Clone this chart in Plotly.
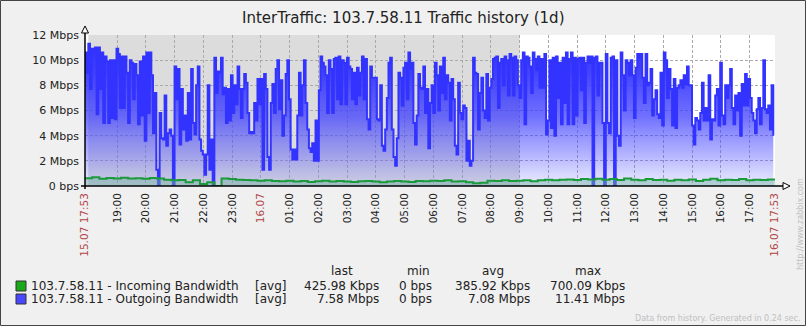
import numpy as np
import plotly.graph_objects as go

# ---------------- data ----------------
# Outgoing bandwidth (Mbps), sampled evenly across the 24 h window starting 15.07 17:53
out_seg1 = [10.6, 9.0, 11.3, 7.7, 10.9, 10.6, 11.0, 5.7, 11.0, 7.7, 10.6, 5.0, 10.3, 9.9, 5.0, 10.0,
            5.4, 10.0, 5.3, 10.9, 10.5, 6.2, 10.3, 6.2, 10.3, 9.0, 5.0, 10.0, 9.8, 6.9, 9.7, 8.8,
            4.9, 9.9, 5.6, 10.3, 3.6, 10.6, 5.8, 10.6, 8.8, 4.2, 7.4, 1.3, 0.0, 5.8, 3.8, 3.7,
            7.2, 3.2, 4.2, 4.5, 4.0, 0.0, 9.5, 6.9, 9.3, 3.3, 7.7, 4.5, 5.6, 3.6, 7.4, 3.7,
            9.3, 5.0, 4.1, 8.0, 9.5, 3.7, 2.8, 2.5, 0.9, 2.5, 8.0, 1.3, 3.7, 0.0, 10.2, 7.4,
            9.1, 9.0, 10.2, 7.3, 7.8, 5.0, 7.7, 5.2, 8.8, 5.8, 8.0, 6.5, 9.5, 7.7, 5.4, 7.7,
            8.9, 8.2, 5.8, 4.2, 4.3, 4.2, 6.6, 5.2, 8.5, 6.5]
out_seg2 = [8.5, 1.3, 8.9, 7.7, 2.3, 1.3, 6.6, 8.1, 5.8, 9.3, 10.0, 6.1, 8.4, 4.0, 5.6, 8.9,
            10.0, 6.9, 2.9, 2.1, 2.9, 2.1, 5.6, 9.0, 5.6, 8.0, 10.0, 6.6, 4.5, 3.0, 2.7, 3.4,
            2.0, 5.2, 2.0, 7.6, 10.3, 9.8, 9.5, 8.8, 5.8, 10.0, 9.3, 5.8, 10.1, 10.2, 6.9, 10.3,
            6.5, 10.0, 9.8, 6.5, 10.2, 9.5, 9.3, 6.9, 9.0, 6.5, 9.4, 7.2, 9.0, 10.3, 6.9, 10.1,
            5.3, 4.5, 9.5, 8.6, 8.6, 8.6, 5.3, 5.2, 8.0, 3.2, 2.8, 4.5, 7.0, 9.8, 10.2, 4.5,
            2.3, 1.6, 3.8, 9.0, 8.6, 6.4, 9.4, 9.8, 6.9, 10.6, 9.3, 9.8, 5.0, 3.3, 5.6, 8.9,
            7.8, 7.7, 9.5, 5.8, 7.7, 3.0]
out_seg3 = [6.6, 8.0, 5.8, 9.8, 8.8, 6.0, 9.5, 7.4, 10.2, 6.9, 8.8, 8.2, 5.2, 8.5, 6.9, 3.2,
            2.5, 8.2, 5.8, 5.3, 6.4, 6.2, 2.0, 3.6, 1.6, 2.0, 10.2, 9.0, 8.9, 4.5, 7.4, 8.6,
            6.0, 5.4, 8.9, 5.2, 7.8, 8.5, 10.1, 10.2, 10.3, 6.2, 9.8, 10.1, 8.0, 10.3, 10.0, 7.2,
            10.5, 10.2, 7.2, 10.3, 10.0, 8.0, 7.0, 10.0, 10.6, 4.9, 10.3, 10.2, 9.5, 7.4, 10.6, 10.1,
            9.2, 10.3, 7.8, 10.1, 7.8, 10.5, 4.1, 5.2, 10.0, 4.6, 10.2, 4.0, 10.3, 7.0, 9.8, 4.9,
            10.2, 6.6, 10.6, 4.9, 10.1, 10.6, 4.9, 10.2, 5.6, 10.1, 10.2, 7.6, 10.2, 5.0, 9.8, 10.3,
            9.8, 10.3, 0.0, 10.2, 10.3, 7.2]
out_seg4 = [9.8, 9.8, 5.0, 0.0, 10.5, 5.0, 4.2, 10.2, 10.3, 0.0, 10.0, 4.0, 3.2, 10.6, 8.8, 6.0,
            10.0, 9.8, 8.8, 10.0, 8.8, 5.4, 9.4, 10.5, 10.2, 10.5, 8.6, 6.6, 10.5, 8.0, 8.2, 9.3,
            5.6, 6.9, 7.6, 5.7, 5.4, 9.0, 4.8, 10.6, 10.0, 7.0, 9.3, 7.7, 4.8, 8.5, 4.6, 7.8,
            8.0, 8.4, 7.8, 8.8, 8.1, 9.5, 8.0, 8.0, 4.8, 3.3, 5.4, 5.2, 4.5, 5.8, 8.2, 5.2,
            6.2, 5.2, 8.8, 3.7, 5.3, 5.2, 7.2, 7.7, 4.8, 9.8, 5.6, 4.9, 8.0, 7.0, 8.0, 9.3,
            6.2, 4.9, 7.2, 6.0, 7.4, 4.0, 8.1, 6.4, 8.9, 6.4, 8.5, 7.0, 5.8, 5.2, 4.2, 6.1,
            7.0, 4.9, 6.2, 10.0, 6.1, 5.8, 6.4, 4.5, 8.0, 4.0]

# Incoming bandwidth (Mbps), every 15 minutes
in_vals = [0.62, 0.70, 0.58, 0.64, 0.60, 0.66, 0.60, 0.62, 0.58, 0.63, 0.60, 0.50, 0.45, 0.48,
           0.30, 0.45, 0.15, 0.30, 0.00, 0.60, 0.55, 0.50, 0.48, 0.45, 0.42, 0.45, 0.40, 0.38,
           0.42, 0.36, 0.40, 0.32, 0.38, 0.42, 0.35, 0.40, 0.36, 0.32, 0.38, 0.40, 0.35, 0.30,
           0.36, 0.40, 0.35, 0.32, 0.40, 0.38, 0.42, 0.40, 0.45, 0.35, 0.38, 0.30, 0.22, 0.25,
           0.42, 0.40, 0.45, 0.40, 0.42, 0.45, 0.38, 0.45, 0.50, 0.45, 0.50, 0.52, 0.48, 0.55,
           0.52, 0.58, 0.50, 0.55, 0.48, 0.60, 0.50, 0.45, 0.55, 0.48, 0.50, 0.42, 0.50, 0.45,
           0.52, 0.40, 0.50, 0.58, 0.45, 0.50, 0.48, 0.55, 0.45, 0.50, 0.48, 0.52, 0.43]

start_clock = (17, 53)
tick_clock = ["17:53"] + [f"{h:02d}:00" for h in list(range(19, 24)) + list(range(0, 18))] + ["17:53"]
tick_text_raw = ["15.07 17:53", "19:00", "20:00", "21:00", "22:00", "23:00", "16.07",
                 "01:00", "02:00", "03:00", "04:00", "05:00", "06:00", "07:00", "08:00",
                 "09:00", "10:00", "11:00", "12:00", "13:00", "14:00", "15:00", "16:00",
                 "17:00", "16.07 17:53"]
red_ticks = {"15.07 17:53", "16.07", "16.07 17:53"}

y_ticks = [0, 2, 4, 6, 8, 10, 12]
y_text = ["0 bps", "2 Mbps", "4 Mbps", "6 Mbps", "8 Mbps", "10 Mbps", "12 Mbps"]

work_start_clock, work_end_clock = "18:00", "09:00"   # shaded (non-working) period

legend_rows = [
    ("103.7.58.11 - Incoming Bandwidth", "[avg]", "425.98 Kbps", "0 bps", "385.92 Kbps", "700.09 Kbps"),
    ("103.7.58.11 - Outgoing Bandwidth", "[avg]", "7.58 Mbps", "0 bps", "7.08 Mbps", "11.41 Mbps"),
]
legend_colors = ["#1aa81a", "#4848ff"]

# ---------------- helpers ----------------
W, H = 806, 326
PL, PR, PT, PB = 85, 775, 35, 186
FONT = "DejaVu Sans"


def clock_to_h(c):
    h, m = map(int, c.split(":"))
    return ((h * 60 + m) - (start_clock[0] * 60 + start_clock[1])) % (24 * 60) / 60.0


def px(x):
    return (x - PL) / (PR - PL)


def py(y):
    return (PB - y) / (PB - PT)


out_vals = out_seg1 + out_seg2 + out_seg3 + out_seg4
out_h = np.linspace(0, 23.94, len(out_vals))
in_h = np.linspace(0, 24, len(in_vals))

tick_vals = [clock_to_h(c) for c in tick_clock]
tick_vals[-1] = 24.0
tick_text = [f'<span style="color:#b04444">{t}</span>' if t in red_ticks else t for t in tick_text_raw]

fig = go.Figure()
fig.add_trace(go.Scatter(
    x=out_h, y=out_vals, mode="lines", line=dict(color="#3333ff", width=2, shape="hv"),
    fill="tozeroy",
    fillgradient=dict(type="vertical", start=0, stop=12,
                      colorscale=[[0, "rgba(110,110,255,0.14)"], [0.2, "rgba(80,80,255,0.42)"],
                                  [0.45, "rgba(60,60,255,0.72)"], [0.75, "rgba(50,50,255,0.92)"],
                                  [1, "rgba(45,45,255,1)"]]),
    hoverinfo="skip", showlegend=False))
fig.add_trace(go.Scatter(
    x=in_h, y=in_vals, mode="lines", line=dict(color="#1a9a3a", width=2, shape="hv"),
    fill="tozeroy", fillcolor="rgba(110,175,165,0.45)",
    hoverinfo="skip", showlegend=False))

shapes = []
shapes.append(dict(type="rect", xref="x", yref="y", x0=clock_to_h(work_start_clock),
                   x1=clock_to_h(work_end_clock), y0=0, y1=12, fillcolor="#dcdcdc",
                   line=dict(width=0), layer="below"))
shapes.append(dict(type="rect", xref="paper", yref="paper", x0=px(0.5), x1=px(W - 0.5),
                   y0=py(H - 0.5), y1=py(0.5), line=dict(color="#444444", width=1)))
shapes.append(dict(type="line", xref="paper", yref="paper", x0=px(PL), x1=px(PL),
                   y0=py(PB + 3), y1=py(28), line=dict(color="black", width=1.5)))
shapes.append(dict(type="line", xref="paper", yref="paper", x0=px(PL - 4), x1=px(783),
                   y0=py(PB), y1=py(PB), line=dict(color="black", width=1.5)))
shapes.append(dict(type="path", xref="paper", yref="paper",
                   path=f"M {px(PL-3.5)} {py(33)} L {px(PL+3.5)} {py(33)} L {px(PL)} {py(26)} Z",
                   fillcolor="white", line=dict(color="black", width=1)))
shapes.append(dict(type="path", xref="paper", yref="paper",
                   path=f"M {px(783)} {py(PB-3.5)} L {px(783)} {py(PB+3.5)} L {px(790)} {py(PB)} Z",
                   fillcolor="white", line=dict(color="black", width=1)))
for i, c in enumerate(legend_colors):
    y0 = 281 + 13 * i
    shapes.append(dict(type="rect", xref="paper", yref="paper", x0=px(16), x1=px(26),
                       y0=py(y0 + 10), y1=py(y0), fillcolor=c, line=dict(color="#333333", width=1)))


def text_ann(text, x, y, size, xanchor="center", color="#222", angle=0):
    return dict(text=text, x=px(x), y=py(y), xref="paper", yref="paper", xanchor=xanchor,
                yanchor="middle", showarrow=False, textangle=angle,
                font=dict(family=FONT, size=size, color=color))


ann = [text_ann("InterTraffic: 103.7.58.11 Traffic history (1d)", 403, 18, 15)]
for t, xc in zip(["last", "min", "avg", "max"], [342, 418, 493, 588]):
    ann.append(text_ann(t, xc, 271, 12))
for i, row in enumerate(legend_rows):
    yy = 286 + 13 * i
    ann.append(text_ann(row[0], 29, yy, 12, "left"))
    ann.append(text_ann(row[1], 253, yy, 12, "left"))
    for v, xr in zip(row[2:], [381, 434, 532, 627]):
        ann.append(text_ann(v, xr, yy, 12, "right"))
ann.append(text_ann("Data from history. Generated in 0.24 sec.", 802, 318, 8, "right", "#c0c0c0"))
ann.append(text_ann("http://www.zabbix.com", 800, 224, 8, "center", "#c0c0c0", -90))

fig.update_layout(
    width=W, height=H, margin=dict(l=PL, r=W - PR, t=PT, b=H - PB),
    paper_bgcolor="#f0f0f0", plot_bgcolor="white",
    shapes=shapes, annotations=ann, showlegend=False,
    font=dict(family=FONT, size=11, color="#222"),
    xaxis=dict(range=[0, 24], tickvals=tick_vals, ticktext=tick_text, tickangle=-90,
               showgrid=True, gridcolor="#aaaaaa", griddash="3px,2px", gridwidth=1,
               zeroline=False, showline=False, ticks="", ticklabelstandoff=4,
               tickfont=dict(size=10.5, family=FONT, color="#222")),
    yaxis=dict(range=[0, 12], tickvals=y_ticks, ticktext=y_text, showgrid=True,
               gridcolor="#aaaaaa", griddash="3px,2px", gridwidth=1, zeroline=False,
               showline=False, ticks="", ticklabelstandoff=5,
               tickfont=dict(size=11, family=FONT, color="#222")),
)
fig.write_html("out.html")
